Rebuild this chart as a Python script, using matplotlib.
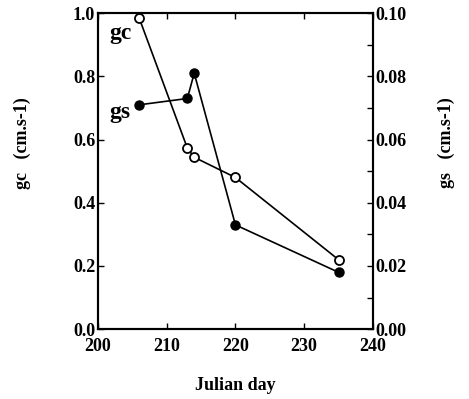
import matplotlib
matplotlib.use("Agg")
from matplotlib import pyplot as plt
from matplotlib.ticker import MultipleLocator

plt.rcParams['font.family'] = ['Liberation Serif', 'DejaVu Serif']
plt.rcParams['font.weight'] = 'bold'

# gc (open circles, left axis)
gc_day = [206, 213, 214, 220, 235]
gc_val = [0.984, 0.573, 0.544, 0.48, 0.22]
# gs (filled circles, right axis)
gs_day = [206, 213, 214, 220, 235]
gs_val = [0.071, 0.073, 0.081, 0.033, 0.018]

fig = plt.figure(figsize=(4.69, 3.99), dpi=100)
ax = fig.add_axes([0.209, 0.175, 0.586, 0.792])
ax2 = ax.twinx()

ax.plot(gc_day, gc_val, '-o', color='black', mfc='white', mec='black',
        ms=6.5, mew=1.3, lw=1.2, zorder=3)
ax2.plot(gs_day, gs_val, '-o', color='black', mfc='black', mec='black',
         ms=6.5, lw=1.2, zorder=3)

ax.set_xlim(200, 240)
ax.set_ylim(0, 1.0)
ax2.set_ylim(0, 0.10)
ax.xaxis.set_major_locator(MultipleLocator(10))
ax.yaxis.set_major_locator(MultipleLocator(0.2))
ax2.yaxis.set_major_locator(MultipleLocator(0.02))
ax2.yaxis.set_minor_locator(MultipleLocator(0.01))

ax.yaxis.set_major_formatter(plt.FormatStrFormatter('%.1f'))
ax2.yaxis.set_major_formatter(plt.FormatStrFormatter('%.2f'))

ax.tick_params(axis='x', direction='in', top=True, length=4, width=1,
               labelsize=13, pad=6)
ax.tick_params(axis='y', direction='in', length=4, width=1, labelsize=13, pad=2)
ax2.tick_params(axis='y', which='both', direction='in', length=4, width=1,
                labelsize=13, pad=2)

for a in (ax, ax2):
    for s in a.spines.values():
        s.set_linewidth(1.5)

ax.text(203.2, 0.935, 'gc', fontsize=17, fontweight='bold', ha='center', va='center')
ax.text(203.2, 0.685, 'gs', fontsize=17, fontweight='bold', ha='center', va='center')

ax.set_xlabel('Julian day', fontsize=13, fontweight='bold', labelpad=16)
ax.set_ylabel('gc   (cm.s-1)', fontsize=13, fontweight='bold', labelpad=30)
ax2.set_ylabel('gs   (cm.s-1)', fontsize=13, fontweight='bold', labelpad=22)
# labels sit a bit above the middle in the original
ax.yaxis.label.set_y(0.59)
ax2.yaxis.label.set_y(0.59)

fig.savefig('out.png', dpi=100)
